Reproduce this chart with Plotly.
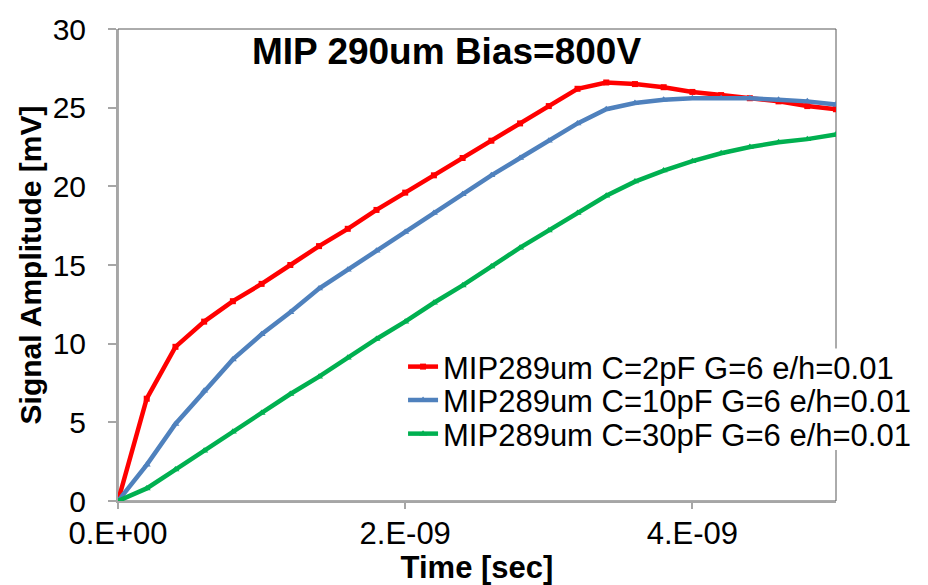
import plotly.graph_objects as go

time_s = [i * 0.2e-9 for i in range(26)]
c2pF = [0, 6.5, 9.8, 11.4, 12.7, 13.8, 15.0, 16.2, 17.3, 18.5, 19.6, 20.7, 21.8, 22.9, 24.0, 25.1,
        26.2, 26.6, 26.5, 26.3, 26.0, 25.8, 25.6, 25.4, 25.1, 24.9]
c10pF = [0, 2.3, 4.9, 7.0, 9.0, 10.6, 12.0, 13.5, 14.7, 15.9, 17.1, 18.3, 19.5, 20.7, 21.8, 22.9,
         24.0, 24.9, 25.3, 25.5, 25.6, 25.6, 25.6, 25.5, 25.4, 25.2]
c30pF = [0, 0.8, 2.0, 3.2, 4.4, 5.6, 6.8, 7.9, 9.1, 10.3, 11.4, 12.6, 13.7, 14.9, 16.1, 17.2,
         18.3, 19.4, 20.3, 21.0, 21.6, 22.1, 22.5, 22.8, 23.0, 23.3]
names = ["MIP289um C=2pF G=6 e/h=0.01", "MIP289um C=10pF G=6 e/h=0.01", "MIP289um C=30pF G=6 e/h=0.01"]
x_tickvals = [0, 2e-9, 4e-9]
x_ticktext = ["0.E+00", "2.E-09", "4.E-09"]
y_tickvals = [0, 5, 10, 15, 20, 25, 30]

FONT = "Liberation Sans, Arial, sans-serif"
fig = go.Figure()
series = [
    (c2pF, "#FF0000", "square", 6),
    (c10pF, "#4F81BD", "triangle-up", 7),
    (c30pF, "#00B050", "triangle-up", 7),
]
legend_ids = ["legend", "legend2", "legend3"]
for (vals, col, sym, ms), nm, lg in zip(series, names, legend_ids):
    fig.add_trace(go.Scatter(x=time_s, y=vals, name=nm, mode="lines+markers", legend=lg,
                             line=dict(color=col, width=4.5),
                             marker=dict(symbol=sym, size=ms, color=col)))

# plot-area border
fig.add_shape(type="rect", xref="paper", yref="paper", x0=0, x1=1, y0=0, y1=1,
              line=dict(color="#595959", width=1), layer="below")
# white legend background box (covers the right border like the original)
fig.add_shape(type="rect", xref="paper", yref="paper", x0=0.372, x1=1.12, y0=0.108, y1=0.323,
              line=dict(width=0), fillcolor="white", layer="above")

leg_common = dict(x=0.397, xanchor="left", yanchor="middle", bgcolor="rgba(0,0,0,0)",
                  font=dict(size=31, family=FONT), borderwidth=0, itemwidth=30)
fig.update_layout(
    width=928, height=585,
    margin=dict(l=118, r=90, t=25, b=84),
    paper_bgcolor="white", plot_bgcolor="white",
    font=dict(family=FONT, color="black"),
    showlegend=True,
    legend=dict(y=0.284, **leg_common),
    legend2=dict(y=0.213, **leg_common),
    legend3=dict(y=0.142, **leg_common),
    annotations=[dict(text="<b>MIP 290um Bias=800V</b>", x=0.458, y=1.0, xref="paper", yref="paper",
                      xanchor="center", yanchor="top", showarrow=False,
                      font=dict(size=37, family=FONT, color="black"), yshift=0)],
)
fig.update_xaxes(range=[0, 5e-9], tickvals=x_tickvals, ticktext=x_ticktext,
                 showgrid=False, zeroline=False, showline=True, linecolor="#A6A6A6", linewidth=2,
                 ticks="outside", ticklen=6, tickcolor="#A6A6A6", tickwidth=1.5,
                 ticklabelstandoff=-2,
                 tickfont=dict(size=31, family=FONT),
                 title=dict(text="<b>Time [sec]</b>", font=dict(size=31, family=FONT), standoff=0))
fig.update_yaxes(range=[0, 30], tickvals=y_tickvals,
                 showgrid=False, zeroline=False, showline=True, linecolor="#A6A6A6", linewidth=2,
                 ticks="outside", ticklen=8, tickcolor="#A6A6A6", tickwidth=1.5,
                 ticklabelstandoff=16,
                 tickfont=dict(size=30, family=FONT),
                 title=dict(text="<b>Signal Amplitude [mV]</b>", font=dict(size=30, family=FONT), standoff=2))

fig.write_html("out.html")
